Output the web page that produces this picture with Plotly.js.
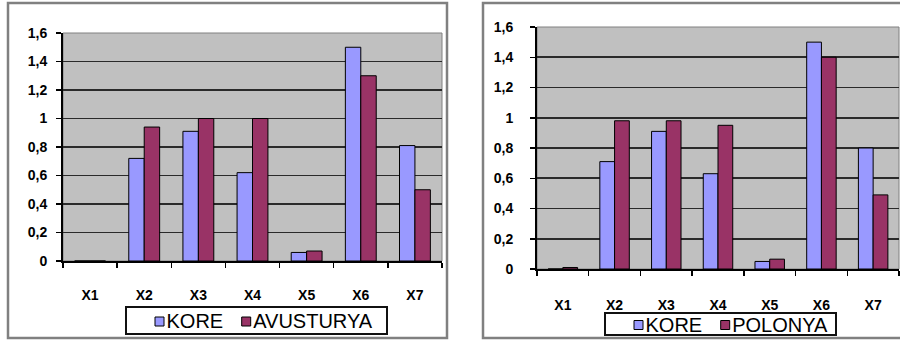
<!DOCTYPE html>
<html>
<head>
<meta charset="utf-8">
<script src="https://cdn.plot.ly/plotly-3.0.1.min.js"></script>
<style>html,body{margin:0;padding:0;background:#fff;}#chart{width:900px;height:340px;}</style>
</head>
<body>
<div id="chart"></div>
<script>
const categories = ["X1","X2","X3","X4","X5","X6","X7"];
const koreLeft = [0, 0.72, 0.91, 0.62, 0.06, 1.5, 0.81];
const avusturya = [0, 0.94, 1.0, 1.0, 0.07, 1.3, 0.5];
const koreRight = [0, 0.71, 0.91, 0.63, 0.05, 1.5, 0.8];
const polonya = [0.01, 0.98, 0.98, 0.95, 0.065, 1.4, 0.49];
const yTicks = [0, 0.2, 0.4, 0.6, 0.8, 1, 1.2, 1.4, 1.6];

const blue = '#9999FF', plum = '#993366';
const barLine = {color: '#000', width: 1};

const traces = [
  {type:'bar', x: categories, y: koreLeft, name:'KORE', marker:{color: blue, line: barLine}, xaxis:'x', yaxis:'y', legend:'legend'},
  {type:'bar', x: categories, y: avusturya, name:'AVUSTURYA', marker:{color: plum, line: barLine}, xaxis:'x', yaxis:'y', legend:'legend'},
  {type:'bar', x: categories, y: koreRight, name:'KORE', marker:{color: blue, line: barLine}, xaxis:'x2', yaxis:'y2', legend:'legend2'},
  {type:'bar', x: categories, y: polonya, name:'POLONYA', marker:{color: plum, line: barLine}, xaxis:'x2', yaxis:'y2', legend:'legend2'}
];

const tickFont = {family: 'Liberation Sans, Arial, sans-serif', size: 14, color: '#000', weight: 'bold'};
function xAxis(domain, anchor, standoff) {
  return {domain: domain, anchor: anchor, type:'category', tickson:'boundaries', ticks:'outside', ticklen:5, tickcolor:'#000', tickwidth:1.5,
    showline:true, linecolor:'#000', linewidth:2, showgrid:false, tickfont: tickFont, ticklabelstandoff: standoff, fixedrange:true, automargin:false};
}
function yAxis(domain, anchor, standoff) {
  return {domain: domain, anchor: anchor, range:[0,1.6], tickvals: yTicks, ticks:'outside', ticklen:5, tickcolor:'#000', tickwidth:1.5,
    showline:true, linecolor:'#000', linewidth:2, showgrid:true, gridcolor:'#2a2a2a', gridwidth:1.6, zeroline:false,
    tickfont: tickFont, ticklabelstandoff: standoff, fixedrange:true, automargin:false};
}
const legFont = {family: 'Liberation Sans, Arial, sans-serif', size: 20, color: '#000'};

const layout = {
  width: 900, height: 340,
  margin: {l:0, r:0, t:0, b:0, autoexpand:false},
  paper_bgcolor: '#fff', plot_bgcolor: '#C0C0C0',
  separators: ',.',
  barmode: 'group', bargap: 0.43, bargroupgap: 0,
  showlegend: true,
  xaxis: xAxis([63/900, 442/900], 'y', 20),
  yaxis: yAxis([79/340, 307/340], 'x', 6),
  xaxis2: xAxis([537/900, 899/900], 'y2', 22),
  yaxis2: yAxis([71/340, 313/340], 'x2', 14),
  legend: {orientation:'h', x: 256/900, xanchor:'center', y: 34/340, yanchor:'top', bgcolor:'#fff', bordercolor:'#111', borderwidth:2,
    font: legFont, itemwidth: 30, tracegroupgap: 0},
  legend2: {orientation:'h', x: 720/900, xanchor:'center', y: 28/340, yanchor:'top', bgcolor:'#fff', bordercolor:'#111', borderwidth:2,
    font: legFont, itemwidth: 30, tracegroupgap: 0},
  shapes: [
    {type:'rect', xref:'paper', yref:'paper', x0: 8/900, x1: 447/900, y0: 2/340, y1: 337/340, line:{color:'#808080', width:2.5}, layer:'below'},
    {type:'rect', xref:'paper', yref:'paper', x0: 483/900, x1: 1.02, y0: 2/340, y1: 337/340, line:{color:'#808080', width:2.5}, layer:'below'},
    {type:'rect', xref:'x domain', yref:'y domain', x0:0, x1:1, y0:0, y1:1, line:{color:'#808080', width:1}, layer:'below'},
    {type:'rect', xref:'x2 domain', yref:'y2 domain', x0:0, x1:1, y0:0, y1:1, line:{color:'#808080', width:1}, layer:'below'}
  ]
};

function parseT(el) {
  const m = /translate\(\s*([-\d.e]+)[\s,]*([-\d.e]*)\s*\)/.exec(el.getAttribute('transform') || '');
  return m ? [parseFloat(m[1]), m[2] === '' ? 0 : parseFloat(m[2])] : [0, 0];
}

Plotly.newPlot('chart', traces, layout, {staticPlot: true, displayModeBar: false}).then(function () {
  // Excel-style legend keys: small square right next to the label
  document.querySelectorAll('.legendpoints path').forEach(function (p) {
    p.setAttribute('d', 'M4.5,4.5H-4.5V-4.5H4.5Z');
    p.setAttribute('transform', 'translate(33,1)');
  });
  // tighter legend boxes, like the reference
  const targets = {legend: {h: 27, shift: 15, shrink: 8}, legend2: {h: 22, shift: 15, shrink: 14}};
  Object.keys(targets).forEach(function (cls) {
    const g = document.querySelector('g.' + cls);
    if (!g) return;
    const bg = g.querySelector('rect.bg');
    const sb = g.querySelector('g.scrollbox');
    if (!bg || !sb) return;
    const t = targets[cls];
    const H = +bg.getAttribute('height');
    bg.setAttribute('height', t.h);
    sb.removeAttribute('clip-path');
    sb.setAttribute('transform', 'translate(0,' + (-(H - t.h) / 2) + ')');
    g.querySelectorAll('g.traces').forEach(function (it, i) {
      if (i === 0) return;
      const p = parseT(it);
      it.setAttribute('transform', 'translate(' + (p[0] - t.shift * i) + ',' + p[1] + ')');
    });
    const W = +bg.getAttribute('width');
    bg.setAttribute('width', W - t.shrink);
    const gp = parseT(g);
    g.setAttribute('transform', 'translate(' + (gp[0] + t.shrink / 2) + ',' + gp[1] + ')');
  });
});
</script>
</body>
</html>
